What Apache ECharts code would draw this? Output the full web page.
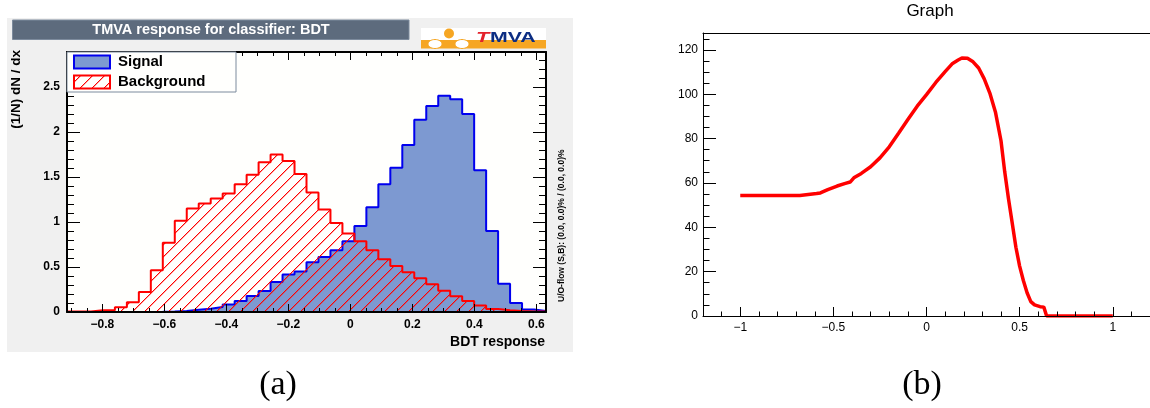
<!DOCTYPE html>
<html><head><meta charset="utf-8">
<script src="https://cdn.jsdelivr.net/npm/echarts@6/dist/echarts.min.js"></script>
<style>html,body{margin:0;padding:0;background:#fff;}#c{width:1150px;height:408px;}</style>
</head><body><div id="c"></div>
<script>
// ---------------- data ----------------
// Panel (a): TMVA BDT response histograms, 40 equal bins
const binEdgeMin = -0.914;
const binEdgeMax = 0.631;
const binCount = 40;
const signalValues = [0,0,0,0,0,0,0,0.002,0.005,0.011,0.026,0.037,0.056,0.083,0.122,0.178,0.232,0.333,0.417,0.45,
  0.552,0.611,0.686,0.786,0.955,1.163,1.419,1.604,1.856,2.137,2.289,2.404,2.363,2.2,1.574,0.9,0.315,0.1,0.027,0.01];
const backgroundValues = [0.005,0.005,0.019,0.019,0.052,0.107,0.222,0.463,0.77,1.013,1.15,1.205,1.262,1.317,1.42,1.526,1.663,1.749,1.678,1.533,
  1.327,1.138,0.989,0.871,0.786,0.686,0.586,0.511,0.441,0.374,0.308,0.237,0.174,0.122,0.071,0.034,0.02,0.01,0.005,0.005];
const histXTicks = [-0.8,-0.6,-0.4,-0.2,0,0.2,0.4,0.6];
const histYTicks = [0,0.5,1,1.5,2,2.5];
const histYMax = 2.889;

// Panel (b): Graph
const graphX = [-1.0,-0.68,-0.67,-0.59,-0.57,-0.53,-0.48,-0.44,-0.41,-0.39,-0.35,-0.30,-0.25,-0.20,-0.15,-0.10,-0.05,0.0,0.05,0.10,
  0.14,0.17,0.19,0.22,0.25,0.28,0.31,0.34,0.37,0.40,0.42,0.44,0.46,0.48,0.50,0.52,0.54,0.56,0.58,0.61,0.63,0.645,0.7,1.0];
const graphY = [54.3,54.3,54.8,55.2,55.5,57.0,58.6,59.7,60.4,62.3,64.3,67.3,71.3,76.3,82.4,88.6,94.6,99.8,105.3,110.2,
  113.9,115.4,116.3,116.2,114.6,111.8,106.9,100.5,92.0,79.0,65.0,53.0,42.0,31.0,22.5,16.0,10.5,6.5,5.0,4.2,4.0,0,0,0];
const graphXTicks = [-1,-0.5,0,0.5,1];
const graphYTicks = [0,20,40,60,80,100,120];
const graphXRange = [-1.2, 1.2];
const graphYMax = 127.6;

// ---------------- helpers ----------------
const FF = '"Liberation Sans", Arial, Helvetica, sans-serif';
const fmt = v => (v < 0 ? '\u2212' + String(+(-v).toFixed(4)) : String(+v.toFixed(4)));
function steps(step, from, to) { const a = []; for (let k = Math.round(from/step); k <= Math.round(to/step); k++) a.push(+(k*step).toFixed(6)); return a; }
const histXMinor = steps(0.05, -0.9, 0.6);
const histYMinor = steps(0.1, 0, 2.8);
const graphXMinor = steps(0.1, -1.2, 1.2);
const graphYMinor = steps(5, 0, 125);

const binWidth = (binEdgeMax - binEdgeMin) / binCount;
function histData(vals) {
  const d = vals.map((v, i) => [binEdgeMin + i*binWidth, v]);
  d.push([binEdgeMax, vals[vals.length-1]]);
  return d;
}

// red 45-degree hatch tile, drawn pixel by pixel
function hatchCanvas() {
  const s = 12, c = document.createElement('canvas');
  c.width = s; c.height = s;
  const g = c.getContext('2d');
  g.clearRect(0, 0, s, s);
  g.fillStyle = 'rgba(255,0,0,1)';
  for (let i = 0; i < s; i++) g.fillRect(i, s - 1 - i, 1, 1);
  g.fillStyle = 'rgba(255,0,0,0.35)';
  for (let i = 0; i < s; i++) { g.fillRect(i, (s - i) % s, 1, 1); }
  return c;
}
const hatch = { image: hatchCanvas(), repeat: 'repeat' };

function ax(o) {
  const base = {
    type: 'value', z: 10, splitLine: {show:false},
    axisLine: {show:false, onZero:false, lineStyle:{color:'#000', width:2}},
    axisTick: {show:false},
    axisLabel: {show:false}
  };
  return Object.assign(base, o);
}
function ticks(vals, len, w) { return {show:true, inside:true, length:len, customValues:vals, lineStyle:{color:'#000', width:w||1}}; }
function labels(vals, o) { return Object.assign({show:true, customValues:vals, formatter:fmt, color:'#000', fontFamily:FF}, o); }

const xAxes = [
  // panel a
  ax({gridIndex:0, position:'bottom', min:binEdgeMin, max:binEdgeMax,
      axisLine:{show:true,onZero:false,lineStyle:{color:'#000',width:2}},
      axisTick:ticks(histXTicks, 8), axisLabel:labels(histXTicks,{fontSize:12,fontWeight:'bold',margin:7})}),
  ax({gridIndex:0, position:'bottom', min:binEdgeMin, max:binEdgeMax, axisTick:ticks(histXMinor, 4)}),
  ax({gridIndex:0, position:'top', min:binEdgeMin, max:binEdgeMax,
      axisLine:{show:true,onZero:false,lineStyle:{color:'#000',width:2}}, axisTick:ticks(histXTicks, 8)}),
  ax({gridIndex:0, position:'top', min:binEdgeMin, max:binEdgeMax, axisTick:ticks(histXMinor, 4)}),
  // panel b
  ax({gridIndex:1, position:'bottom', min:graphXRange[0], max:graphXRange[1],
      axisLine:{show:true,onZero:false,lineStyle:{color:'#000',width:1}},
      axisTick:ticks(graphXTicks, 9), axisLabel:labels(graphXTicks,{fontSize:12,margin:6})}),
  ax({gridIndex:1, position:'bottom', min:graphXRange[0], max:graphXRange[1], axisTick:ticks(graphXMinor, 4.5)}),
  ax({gridIndex:1, position:'top', min:graphXRange[0], max:graphXRange[1],
      axisLine:{show:true,onZero:false,lineStyle:{color:'#000',width:1}}})
];
const yAxes = [
  ax({gridIndex:0, position:'left', min:0, max:histYMax,
      axisLine:{show:true,onZero:false,lineStyle:{color:'#000',width:2}},
      axisTick:ticks(histYTicks, 13), axisLabel:labels(histYTicks,{fontSize:12,fontWeight:'bold',margin:7})}),
  ax({gridIndex:0, position:'left', min:0, max:histYMax, axisTick:ticks(histYMinor, 7)}),
  ax({gridIndex:0, position:'right', min:0, max:histYMax,
      axisLine:{show:true,onZero:false,lineStyle:{color:'#000',width:2}}, axisTick:ticks(histYTicks, 13)}),
  ax({gridIndex:0, position:'right', min:0, max:histYMax, axisTick:ticks(histYMinor, 7)}),
  ax({gridIndex:1, position:'left', min:0, max:graphYMax,
      axisLine:{show:true,onZero:false,lineStyle:{color:'#000',width:1}},
      axisTick:ticks(graphYTicks, 13), axisLabel:labels(graphYTicks,{fontSize:12,margin:5})}),
  ax({gridIndex:1, position:'left', min:0, max:graphYMax, axisTick:ticks(graphYMinor, 6.5)})
];

const FONTB = (s) => 'bold ' + s + 'px ' + FF;
function txt(x, y, text, font, fill, align, valign, extra) {
  return Object.assign({type:'text', x:x, y:y, z:20,
    style:{text:text, font:font, fill:fill, align:align, textAlign:align, verticalAlign:valign, textVerticalAlign:valign}}, extra||{});
}
function rect(x, y, w, h, style, z) { return {type:'rect', z:(z===undefined?20:z), shape:{x:x,y:y,width:w,height:h}, style:style}; }

const graphics = [
  // panel a canvas
  rect(7, 18, 566, 334, {fill:'#f0f0f0'}, -10),
  // title bar
  rect(12.5, 20, 396.5, 19.5, {fill:'#5D6B7D', stroke:'#7D8B9D', lineWidth:1}),
  txt(211, 30, 'TMVA response for classifier: BDT', FONTB(14.5), '#ffffff', 'center', 'middle'),
  // logo
  rect(421, 28, 125, 12, {fill:'#ffffff'}),
  rect(421, 40, 125, 8.5, {fill:'#f6a623'}),
  {type:'circle', z:21, shape:{cx:449, cy:33.5, r:5}, style:{fill:'#f6a623'}},
  {type:'ellipse', z:21, shape:{cx:435, cy:44, rx:7, ry:4.5}, style:{fill:'#ffffff', stroke:'#f6a623', lineWidth:1}},
  {type:'ellipse', z:21, shape:{cx:462, cy:44, rx:7, ry:4.5}, style:{fill:'#ffffff', stroke:'#f6a623', lineWidth:1}},
  txt(476, 38, 'T', 'italic bold 15px ' + FF, '#e3222c', 'left', 'middle', {scaleX:1.45}),
  txt(490, 38, 'MVA', FONTB(15), '#0c2d83', 'left', 'middle', {scaleX:1.42}),
  // legend
  rect(67, 52, 169, 40, {fill:'#fffffd', stroke:'#7D8B9D', lineWidth:1}, 15),
  rect(74, 55.5, 36, 13, {fill:'#7d99d1', stroke:'#0000ee', lineWidth:2}),
  rect(74, 75.5, 36, 13, {fill:hatch, stroke:'#ff0000', lineWidth:2}),
  txt(118, 62, 'Signal', FONTB(15), '#000', 'left', 'middle'),
  txt(118, 82, 'Background', FONTB(15), '#000', 'left', 'middle'),
  // axis titles
  txt(16, 50, '(1/N) dN / dx', FONTB(13.5), '#000', 'right', 'middle', {rotation:Math.PI/2}),
  txt(545, 342, 'BDT response', FONTB(14), '#000', 'right', 'middle'),
  txt(562, 302, 'U/O-flow (S,B): (0.0, 0.0)% / (0.0, 0.0)%', FONTB(8.5), '#000', 'left', 'middle', {rotation:Math.PI/2}),
  // panel b title
  txt(930, 11, 'Graph', '17px ' + FF, '#000', 'center', 'middle'),
  // captions
  txt(278, 385, '(a)', '34px "Liberation Serif", "Times New Roman", serif', '#000', 'center', 'middle'),
  txt(922, 385, '(b)', '34px "Liberation Serif", "Times New Roman", serif', '#000', 'center', 'middle')
];

const option = {
  animation: false,
  backgroundColor: 'transparent',
  grid: [
    {left:67, top:52, width:479, height:260, show:true, backgroundColor:'#fffffd', borderWidth:0, z:0},
    {left:703, top:33, width:456, height:283, show:false}
  ],
  xAxis: xAxes,
  yAxis: yAxes,
  series: [
    {name:'Signal', type:'line', xAxisIndex:0, yAxisIndex:0, step:'end', data:histData(signalValues),
     symbol:'none', showSymbol:false, z:2,
     lineStyle:{color:'#0000ee', width:2}, itemStyle:{color:'#0000ee'},
     areaStyle:{color:'#7d99d1', opacity:1, origin:'start'}},
    {name:'Background', type:'line', xAxisIndex:0, yAxisIndex:0, step:'end', data:histData(backgroundValues),
     symbol:'none', showSymbol:false, z:3,
     lineStyle:{color:'#ff0000', width:2}, itemStyle:{color:'#ff0000'},
     areaStyle:{color:hatch, opacity:1, origin:'start'}},
    {name:'Graph', type:'line', xAxisIndex:4, yAxisIndex:4, data:graphX.map((x,i)=>[x, graphY[i]]),
     symbol:'none', showSymbol:false, z:3,
     lineStyle:{color:'#ff0000', width:3.5}, itemStyle:{color:'#ff0000'}}
  ],
  graphic: {elements: graphics}
};

const chart = echarts.init(document.getElementById('c'), null, {renderer:'canvas', width:1150, height:408});
chart.setOption(option);
</script>
</body></html>
